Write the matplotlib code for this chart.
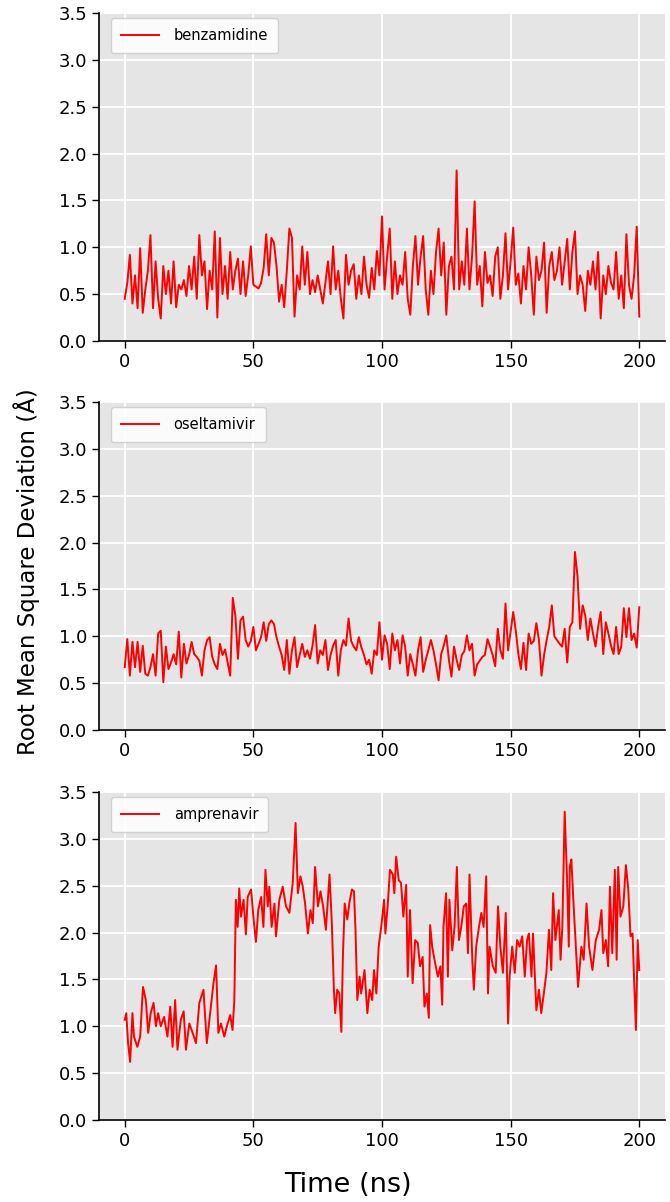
import numpy as np
import matplotlib
matplotlib.use('Agg')
from matplotlib import pyplot as plt

# RMSD traces (Angstrom), one sample per ns
time_ns = np.arange(0, 201)

benzamidine = [
    0.45, 0.62, 0.92, 0.40, 0.70, 0.35, 0.99, 0.30, 0.55, 0.75,
    1.13, 0.35, 0.85, 0.45, 0.24, 0.80, 0.50, 0.75, 0.40, 0.85,
    0.36, 0.60, 0.55, 0.65, 0.48, 0.80, 0.55, 0.90, 0.45, 1.13,
    0.70, 0.85, 0.34, 0.75, 0.55, 1.17, 0.25, 1.10, 0.50, 0.80,
    0.45, 0.95, 0.55, 0.75, 0.88, 0.50, 0.85, 0.48, 0.70, 1.01,
    0.60, 0.58, 0.56, 0.62, 0.78, 1.14, 0.70, 1.10, 1.05, 0.80,
    0.42, 0.60, 0.36, 0.75, 1.20, 1.10, 0.26, 0.70, 0.55, 1.01,
    0.60, 0.95, 0.50, 0.65, 0.52, 0.70, 0.55, 0.40, 0.62, 0.85,
    0.50, 1.01, 0.55, 0.75, 0.45, 0.24, 0.92, 0.60, 0.75, 0.82,
    0.45, 0.70, 0.50, 0.90, 0.60, 0.46, 0.78, 0.55, 0.96, 0.70,
    1.33, 0.55, 0.90, 1.20, 0.45, 0.85, 0.50, 0.70, 0.60, 0.95,
    0.45, 0.28, 0.80, 1.12, 0.60, 0.90, 1.12, 0.55, 0.28, 0.75,
    0.50, 0.95, 1.20, 0.70, 1.05, 0.28, 0.80, 0.90, 0.55, 1.82,
    0.55, 0.85, 0.60, 1.20, 0.55, 0.90, 1.49, 0.60, 0.80, 0.37,
    0.95, 0.62, 0.70, 0.48, 0.90, 1.00, 0.45, 0.70, 1.15, 0.55,
    0.85, 1.21, 0.60, 0.72, 0.40, 0.80, 0.55, 1.00, 0.70, 0.28,
    0.90, 0.65, 0.75, 1.05, 0.30, 0.80, 0.95, 0.65, 0.75, 1.00,
    0.60, 0.85, 1.09, 0.55, 0.95, 1.17, 0.50, 0.70, 0.60, 0.32,
    0.75, 0.60, 0.85, 0.55, 0.95, 0.24, 0.70, 0.50, 0.80, 0.62,
    0.55, 0.95, 0.45, 0.70, 0.35, 1.14, 0.60, 0.45, 0.70, 1.22,
    0.26,
]

oseltamivir = [
    0.67, 0.97, 0.58, 0.94, 0.67, 0.94, 0.62, 0.90, 0.60, 0.58,
    0.67, 0.81, 0.58, 1.03, 1.06, 0.51, 0.89, 0.65, 0.72, 0.81,
    0.70, 1.05, 0.56, 0.92, 0.71, 0.80, 0.94, 0.81, 0.78, 0.74,
    0.58, 0.85, 0.96, 0.99, 0.78, 0.70, 0.65, 0.92, 0.80, 0.86,
    0.72, 0.58, 1.41, 1.22, 0.76, 1.17, 1.21, 0.96, 0.89, 0.95,
    1.10, 0.85, 0.92, 0.99, 1.15, 0.95, 1.13, 1.17, 1.13, 0.99,
    0.89, 0.80, 0.64, 0.96, 0.60, 0.85, 0.99, 0.67, 0.80, 0.92,
    0.78, 0.85, 0.76, 0.90, 1.12, 0.71, 0.85, 0.80, 0.96, 0.64,
    0.80, 0.90, 0.96, 0.58, 0.85, 0.96, 0.90, 1.19, 0.95, 0.89,
    0.85, 0.99, 0.88, 0.80, 0.70, 0.75, 0.60, 0.85, 0.80, 1.15,
    0.75, 1.01, 0.92, 0.65, 1.03, 0.85, 0.96, 0.71, 1.01, 0.89,
    0.58, 0.81, 0.70, 0.58, 0.85, 0.99, 0.62, 0.75, 0.85, 0.96,
    0.85, 0.70, 0.53, 0.81, 0.90, 1.01, 0.75, 0.57, 0.89, 0.75,
    0.64, 0.80, 0.84, 1.01, 0.85, 0.92, 0.58, 0.70, 0.74, 0.78,
    0.80, 0.97, 0.89, 0.80, 0.68, 1.08, 0.85, 0.76, 1.35, 0.85,
    1.05, 1.26, 1.06, 0.81, 0.65, 0.93, 0.64, 1.03, 0.92, 0.95,
    1.14, 0.96, 0.58, 0.80, 0.96, 1.10, 1.33, 1.00, 0.96, 0.92,
    0.89, 1.08, 0.72, 1.10, 1.15, 1.90, 1.64, 1.08, 1.33, 1.22,
    0.96, 1.19, 1.03, 0.89, 1.10, 1.26, 0.81, 1.15, 1.03, 0.90,
    0.81, 1.10, 0.81, 0.89, 1.30, 0.99, 1.30, 0.96, 1.03, 0.88,
    1.31,
]

# amprenavir read as (time, value) vertices
amprenavir_t = [
    0.0, 0.6, 1.3, 2.1, 3.0, 3.6, 4.9, 6.0, 7.1, 8.2, 9.1, 10.1, 11.2, 12.1,
    13.0, 14.0, 15.3, 16.6, 17.7, 18.6, 19.6, 20.5, 21.8, 22.9, 23.8, 25.1,
    26.4, 27.7, 29.0, 30.6, 31.9, 33.5, 34.5, 35.5, 36.4, 37.4, 38.7, 39.7,
    41.0, 41.9, 42.6, 43.2, 43.9, 44.5, 45.2, 46.2, 47.1, 47.8, 49.1, 50.1,
    51.0, 51.9, 53.0, 53.9, 54.7, 55.6, 56.2, 57.1, 58.2, 58.8, 60.1, 61.4,
    62.7, 64.0, 65.3, 66.4, 67.3, 68.3, 69.2, 70.1, 71.2, 72.2, 73.1, 74.0,
    75.1, 76.1, 77.1, 78.2, 79.6, 80.5, 81.3, 81.8, 82.6, 83.4, 84.2, 84.8,
    85.5, 86.5, 87.4, 88.3, 89.1, 89.7, 90.4, 91.3, 91.9, 93.2, 94.3, 95.2,
    96.2, 96.9, 97.8, 98.7, 99.7, 100.8, 101.3, 102.2, 103.1, 104.2, 104.8,
    105.5, 106.5, 107.4, 108.3, 109.4, 110.0, 110.9, 111.9, 112.9, 113.9,
    114.8, 115.8, 116.5, 117.4, 118.2, 118.7, 119.5, 120.4, 121.7, 122.7,
    123.4, 123.9, 124.9, 125.6, 126.2, 127.3, 128.2, 129.1, 129.9, 130.8,
    131.8, 132.7, 133.4, 134.0, 135.1, 135.7, 136.6, 137.7, 138.6, 139.5,
    140.5, 141.2, 141.8, 143.1, 144.2, 145.1, 146.0, 147.0, 148.1, 149.0,
    149.6, 150.6, 151.6, 152.5, 153.5, 154.5, 155.5, 156.4, 157.1, 158.1,
    158.7, 160.0, 161.0, 161.9, 162.9, 163.9, 164.9, 165.8, 166.5, 167.4,
    168.7, 169.4, 170.1, 171.0, 171.9, 172.6, 173.0, 173.6, 174.5, 175.6,
    176.2, 177.5, 178.4, 179.5, 180.5, 181.8, 183.1, 184.4, 185.3, 186.0,
    187.0, 187.9, 188.6, 189.5, 190.5, 191.2, 191.8, 192.7, 193.8, 194.8,
    195.7, 196.6, 197.4, 197.9, 198.7, 199.4, 200.0,
]
amprenavir = [
    1.07, 1.14, 0.82, 0.62, 1.14, 0.89, 0.78, 0.89, 1.42, 1.28, 0.93, 1.14,
    1.25, 1.00, 1.14, 1.00, 1.10, 0.89, 1.21, 0.78, 1.28, 0.75, 1.07, 1.16,
    0.75, 1.03, 0.93, 0.82, 1.25, 1.39, 0.82, 1.21, 1.46, 1.65, 0.93, 1.03,
    0.89, 1.00, 1.12, 0.96, 1.28, 2.35, 2.06, 2.47, 2.17, 2.35, 1.98, 2.38,
    2.46, 2.14, 1.90, 2.24, 2.38, 2.06, 2.67, 2.28, 2.49, 2.06, 2.31, 1.96,
    2.35, 2.49, 2.28, 2.21, 2.53, 3.17, 2.42, 2.60, 2.49, 2.31, 1.99, 2.24,
    2.10, 2.70, 2.28, 2.44, 2.28, 2.03, 2.62, 2.10, 1.39, 1.14, 1.39, 1.35,
    0.94, 1.74, 2.31, 2.14, 2.33, 2.46, 2.44, 2.03, 1.28, 1.53, 1.35, 1.60,
    1.14, 1.39, 1.28, 1.60, 1.35, 1.85, 2.06, 2.35, 1.99, 2.28, 2.67, 2.62,
    2.42, 2.81, 2.56, 2.53, 2.17, 2.51, 1.53, 2.24, 1.46, 1.92, 1.89, 1.64,
    1.74, 1.21, 1.35, 1.09, 2.08, 1.85, 1.71, 1.53, 1.64, 1.23, 2.06, 2.42,
    1.53, 2.35, 1.81, 2.06, 2.70, 1.92, 2.06, 2.28, 2.31, 1.78, 2.62, 1.71,
    1.39, 1.85, 2.06, 2.21, 2.06, 2.60, 1.35, 1.85, 1.64, 1.57, 2.28, 1.85,
    1.57, 2.21, 1.03, 1.53, 1.85, 1.57, 1.92, 1.85, 1.96, 1.53, 1.92, 1.99,
    1.53, 1.99, 1.17, 1.39, 1.14, 1.35, 1.57, 2.03, 1.60, 2.42, 1.92, 2.24,
    1.71, 2.06, 3.29, 2.60, 1.85, 2.70, 2.78, 2.28, 1.71, 1.42, 1.85, 1.71,
    2.31, 1.85, 1.60, 1.92, 2.03, 2.24, 1.78, 1.92, 1.64, 2.49, 1.78, 2.67,
    1.71, 2.70, 2.17, 2.28, 2.72, 2.47, 1.96, 1.99, 1.57, 0.96, 1.92, 1.60,
]

labels = ['benzamidine', 'oseltamivir', 'amprenavir']
x_ticks = [0, 50, 100, 150, 200]
y_ticks = [0.0, 0.5, 1.0, 1.5, 2.0, 2.5, 3.0, 3.5]

series = [(time_ns, benzamidine), (time_ns, oseltamivir),
          (amprenavir_t, amprenavir)]

W, H = 670.0, 1202.0
fig = plt.figure(figsize=(W / 100, H / 100), dpi=100)

panel_tops = [13, 402, 792]
for top, (t, rmsd), name in zip(panel_tops, series, labels):
    ax = fig.add_axes([99 / W, 1 - (top + 328) / H, 566 / W, 328 / H])
    ax.set_facecolor('#e5e5e5')
    ax.plot(t, rmsd, color='red', lw=1.4, label=name)
    ax.set_xlim(-10, 210)
    ax.set_ylim(0, 3.5)
    ax.set_xticks(x_ticks)
    ax.set_yticks(y_ticks)
    ax.grid(True, color='white', lw=1.3)
    ax.set_axisbelow(True)
    ax.spines['top'].set_visible(False)
    ax.spines['right'].set_visible(False)
    for s in ['left', 'bottom']:
        ax.spines[s].set_color('black')
        ax.spines[s].set_linewidth(1.2)
    ax.tick_params(labelsize=13, length=5, width=1, color='black',
                   labelcolor='black')
    ax.legend(loc='upper left', bbox_to_anchor=(12 / 566, 1 - 5 / 328),
              borderaxespad=0, fontsize=10.5, handlelength=2.6,
              handletextpad=1.0, borderpad=0.7, fancybox=True,
              framealpha=0.85, facecolor='white', edgecolor='#cccccc')

fig.text(0.04, 1 - 572 / H, 'Root Mean Square Deviation (\u00c5)',
         rotation=90, ha='center', va='center', fontsize=16.5)
fig.text(348 / W, 1 - 1185 / H, 'Time (ns)', ha='center', va='center',
         fontsize=19.5)

fig.savefig('out.png', dpi=100)
